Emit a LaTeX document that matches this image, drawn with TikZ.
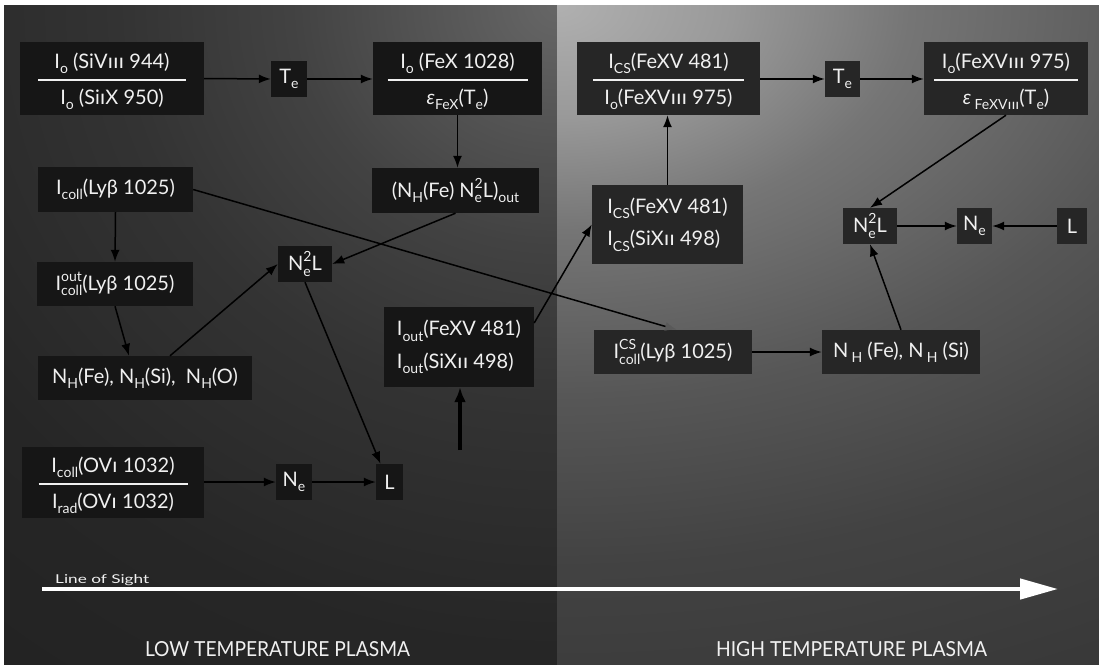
\documentclass[tikz,border=0pt]{standalone}
\usepackage{fontspec}
\setmainfont{Lato}
\usetikzlibrary{arrows.meta}
\definecolor{boxL}{gray}{0.085}
\definecolor{boxR}{gray}{0.15}
\definecolor{txt}{gray}{0.94}
\pgfdeclareradialshading{glowR}{\pgfpoint{0bp}{0bp}}{rgb(0bp)=(0.69,0.69,0.69);rgb(4bp)=(0.60,0.60,0.60);rgb(8bp)=(0.46,0.46,0.46);rgb(14bp)=(0.34,0.34,0.34);rgb(20bp)=(0.26,0.26,0.26);rgb(30bp)=(0.2,0.2,0.2);rgb(50bp)=(0.165,0.165,0.165)}
\pgfdeclareradialshading{glowL}{\pgfpoint{0bp}{0bp}}{rgb(0bp)=(0.40,0.40,0.40);rgb(3bp)=(0.33,0.33,0.33);rgb(6bp)=(0.26,0.26,0.26);rgb(10bp)=(0.2,0.2,0.2);rgb(16bp)=(0.15,0.15,0.15);rgb(25bp)=(0.125,0.125,0.125);rgb(50bp)=(0.105,0.105,0.105)}
\newcommand\sbs[1]{\raisebox{-5.5pt}{\fontsize{14}{16}\selectfont #1}}
\newcommand\sps[1]{\raisebox{9pt}{\fontsize{14}{16}\selectfont #1}}
\newcommand\sbsp[2]{\setbox0\hbox{\sps{#2}}\setbox2\hbox{\sbs{#1}}\ifdim\wd0>\wd2 \rlap{\box2}\box0\else\rlap{\box0}\box2\fi}
\newcommand\ri{\scalebox{1}[0.72]{I}}
\newcommand\frc[3]{\begin{tabular}[t]{@{}c@{}}#1\\[-11pt]\rule{#3}{2.6pt}\\[-1.1pt]#2\end{tabular}}
\newcommand\two[2]{\begin{tabular}[t]{@{}l@{}}#1\\[8.5pt]#2\end{tabular}}
\tikzset{
  bxL/.style 2 args={fill=boxL,text=txt,inner sep=0pt,minimum width=#1,minimum height=#2,font=\fontsize{20}{24}\selectfont},
  bxR/.style 2 args={fill=boxR,text=txt,inner sep=0pt,minimum width=#1,minimum height=#2,font=\fontsize{20}{24}\selectfont},
  frcnode/.style={text height=22.7pt,text depth=43.1pt},
  arr/.style={draw=black,line width=1.5pt,-{Latex[length=12pt,width=9pt]}},
  thickarr/.style={draw=black,line width=3.5pt,-{Latex[length=15pt,width=12pt]}},
  fadearr/.style={draw=black,line width=1.5pt,-{Latex[length=12pt,width=9pt,fill=gray!70!black,color=gray!70!black]}},
  lbl/.style={text=txt,inner sep=0pt}
}
\begin{document}
\begin{tikzpicture}[x=1pt,y=-1pt]
\useasboundingbox (0,0) rectangle (1099,664);
\fill[white] (0,0) rectangle (1099,664);
\begin{scope}
\clip (4,5) rectangle (557,664);
\shade[shading=glowL] (-543,-995) rectangle (1657,1005);
\end{scope}
\begin{scope}
\clip (557,5) rectangle (1099,664);
\shade[shading=glowR] (-543,-695) rectangle (1657,705);
\end{scope}

% left panel
\node[bxL={184pt}{73pt},frcnode] (A) at (112,78.5) {\frc{I\sbs{o} (SiV\ri\ri\ri\ 944)}{I\sbs{o} (Si\ri X 950)}{148pt}};
\node[bxL={36pt}{36pt}] (TeL) at (289,79) {T\sbs{e}};
\node[bxL={169pt}{73pt},frcnode] (C) at (457.5,78.5) {\frc{I\sbs{o} (FeX 1028)}{\textit{ε}\sbs{FeX}(T\sbs{e})}{140pt}};
\node[bxL={155pt}{45pt}] (Icoll) at (115.5,189.5) {I\sbs{coll}(Lyβ 1025)};
\node[bxL={167pt}{45pt}] (NHout) at (455.5,190.5) {(N\sbs{H}(Fe) N\sbsp{e}{2}L)\sbs{out}};
\node[bxL={54pt}{36pt}] (NeLL) at (305,264) {N\sbsp{e}{2}L};
\node[bxL={156pt}{44pt}] (Icollout) at (115,284) {I\sbsp{coll}{out}(Lyβ 1025)};
\node[bxL={214pt}{44pt}] (NH3) at (145,378) {N\sbs{H}(Fe), N\sbs{H}(Si),\ \ N\sbs{H}(O)};
\node[bxL={150pt}{80pt}] (Iout) at (459,347) {\two{I\sbs{out}(FeXV 481)}{I\sbs{out}(SiX\ri\ri\ 498)}};
\node[bxL={182pt}{71pt},frcnode] (O6) at (113,482.5) {\frc{I\sbs{coll}(OV\ri\ 1032)}{I\sbs{rad}(OV\ri\ 1032)}{149pt}};
\node[bxL={36pt}{36pt}] (NeL) at (294,482) {N\sbs{e}};
\node[bxL={27pt}{36pt}] (LL) at (389.5,482) {L};

% right panel
\node[bxR={183pt}{73pt},frcnode] (D) at (668.5,78.5) {\frc{I\sbs{CS}(FeXV 481)}{I\sbs{o}(FeXV\ri\ri\ri\ 975)}{151pt}};
\node[bxR={35pt}{36pt}] (TeR) at (842.5,79) {T\sbs{e}};
\node[bxR={164pt}{73pt},frcnode] (F) at (1006,78.5) {\frc{I\sbs{o}(FeXV\ri\ri\ri\ 975)}{\textit{ε}\,\sbs{FeXV\ri\ri\ri}(T\sbs{e})}{144pt}};
\node[bxR={151pt}{79pt}] (ICS) at (667.5,224.5) {\two{I\sbs{CS}(FeXV 481)}{I\sbs{CS}(SiX\ri\ri\ 498)}};
\node[bxR={54pt}{36pt}] (NeLR) at (870,226) {N\sbsp{e}{2}L};
\node[bxR={35pt}{36pt}] (NeR) at (974.5,226) {N\sbs{e}};
\node[bxR={30pt}{36pt}] (LR) at (1072,226) {L};
\node[bxR={158pt}{44pt}] (IcollCS) at (673,352) {I\sbsp{coll}{CS}(Lyβ 1025)};
\node[bxR={158pt}{44pt}] (NHR) at (901,352) {N\,\sbs{H} (Fe), N\,\sbs{H} (Si)};

% connectors left
\draw[arr] (A.east) -- (TeL.west);
\draw[arr] (TeL.east) -- (C.west |- TeL.east);
\draw[arr] (C.south) -- (C.south |- NHout.north);
\draw[arr] (NHout.south) -- (NeLL.east);
\draw[arr] (Icoll.south) -- (Icollout.north);
\draw[arr] (Icollout.south) -- ([xshift=-16pt]NH3.north);
\draw[arr] ([xshift=25pt]NH3.north) -- (NeLL.west);
\draw[arr] (NeLL.south) -- ([xshift=-9pt]LL.north);
\draw[arr] (O6.east |- NeL.west) -- (NeL.west);
\draw[arr] (NeL.east) -- (LL.west);
\coordinate (thk) at (460,450);
\draw[thickarr] (thk) -- (thk |- Iout.south);
\draw[arr] ([yshift=24pt]Iout.east) -- (ICS.west);
\draw[fadearr] (Icoll.east) -- ([xshift=4pt]IcollCS.north);

% connectors right
\draw[arr] (ICS.north) -- (ICS.north |- D.south);
\draw[arr] (D.east |- TeR.west) -- (TeR.west);
\draw[arr] (TeR.east) -- (F.west |- TeR.east);
\draw[arr] (F.south) -- (NeLR.north);
\draw[arr] (NeLR.east) -- (NeR.west);
\draw[arr] (LR.west) -- (NeR.east);
\draw[arr] (NHR.north) -- (NeLR.south);
\draw[arr] (IcollCS.east) -- (NHR.west);

% line of sight
\coordinate (los1) at (42,589);
\coordinate (los2) at (1058,589);
\draw[white,line width=4.5pt,-{Triangle[length=38pt,width=20pt]}] (los1) -- (los2);
\node[lbl,anchor=base west] (los) at (55,583) {\resizebox{94pt}{9pt}{Line of Sight}};
\node[lbl,anchor=base] (low) at (277.5,656.5) {\resizebox{265pt}{15pt}{LOW TEMPERATURE PLASMA}};
\node[lbl,anchor=base] (high) at (851.5,656.5) {\resizebox{271pt}{15pt}{HIGH TEMPERATURE PLASMA}};
\end{tikzpicture}
\end{document}
